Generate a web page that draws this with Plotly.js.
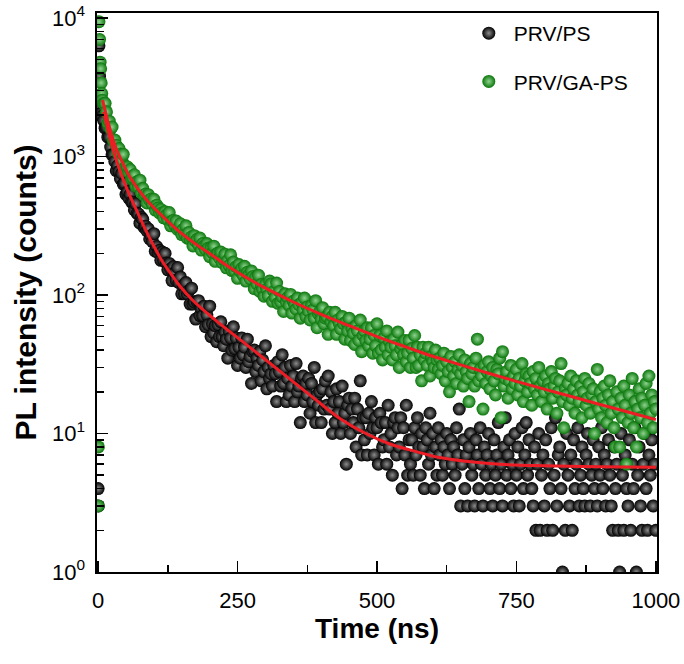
<!DOCTYPE html>
<html>
<head>
<meta charset="utf-8">
<script src="https://cdn.plot.ly/plotly-3.0.1.min.js"></script>
<style>
html,body{margin:0;padding:0;background:#fff;}
#chart{width:684px;height:664px;}
</style>
</head>
<body>
<div id="chart"></div>
<script>
// ---------- data ----------
const seriesNames = ['PRV/PS', 'PRV/GA-PS'];

// regular TCSPC time grid after the rise (ns)
const gridStart = 10;
const gridStep = 2.5;

// PRV/PS : points around the excitation pulse
const blackRiseTime = [0, 0.5, 1.5, 2.5, 3.5, 4.5, 5.5, 7];
const blackRiseCounts = [4, 3, 6300, 3800, 2700, 2300, 2050, 1950];
// PRV/PS : decay counts from t = 10 ns, every 2.5 ns
const blackCounts = [
1820,1600,1620,1378,1383,1170,1030,1032,921,789,
861,780,692,754,632,640,533,556,501,534,
469,466,411,456,389,384,330,363,352,308,
314,291,300,254,268,243,277,207,224,203,
210,178,204,178,200,170,152,169,154,127,
160,145,128,158,123,135,102,117,102,123,
102,107,86,112,86,89,67,90,91,71,
80,71,83,59,72,61,83,50,62,53,
60,46,61,50,64,50,43,54,48,35,
55,49,40,59,41,49,31,42,35,49,
37,42,30,48,33,36,23,39,40,28,
35,31,39,24,34,28,43,21,30,25,
27,22,31,27,17,33,28,22,37,23,
30,17,25,19,31,22,26,17,32,20,
22,12,25,26,17,23,19,25,14,23,
17,30,12,19,16,20,12,21,15,24,
16,26,15,20,10,17,12,21,14,17,
10,22,12,14,6,16,18,10,15,12,
18,8,15,11,24,7,13,9,13,7,
14,10,17,11,7,13,11,6,14,12,
8,9,12,6,16,8,10,5,12,13,
7,11,8,13,4,11,7,16,5,9,
6,9,5,11,7,13,8,5,10,8,
4,11,9,6,14,7,10,4,8,5,
11,
7,9,5,8,6,10,7,4,9,6,
8,5,11,7,15,3,6,9,4,7,
3,8,10,5,6,3,9,7,4,11,
6,3,8,5,7,10,4,6,3,9,
5,7,12,4,6,3,8,13,5,7,
9,4,6,3,10,5,8,3,6,11,
4,7,12,5,9,6,4,3,8,2,
6,10,2,5,7,3,9,2,6,4,
11,2,5,13,3,7,8,4,1,6,
2,10,5,3,7,2,9,4,6,11,
3,5,8,4,3,7,10,6,3,5,
9,4,6,3,8,5,11,4,7,3,
6,9,5,3,2,8,4,6,2,1,
10,5,2,7,4,3,9,2,6,4,
11,1,5,8,3,2,6,10,4,2,
7,5,9,3,6,2
];

// PRV/GA-PS : points around the excitation pulse
const greenRiseTime = [0, 0.5, 1.5, 2.5, 3.5, 4.5, 5.5, 6.5, 7.5];
const greenRiseCounts = [3, 8, 9400, 7000, 4800, 4300, 3400, 2850, 2550];
// PRV/GA-PS : decay counts from t = 10 ns, every 2.5 ns
const greenCounts = [
2415,2421,2101,1734,1799,1584,1633,1306,1314,1205,
1070,1141,1042,940,1036,807,850,841,766,804,
691,703,738,612,658,603,674,545,589,523,
536,462,530,483,494,452,491,410,445,424,
392,415,393,361,399,377,349,394,316,341,
345,319,342,297,306,327,273,298,277,316,
257,283,253,263,226,268,244,253,231,258,
211,235,225,214,235,218,189,219,202,225,
175,197,201,185,204,171,180,197,157,178,
163,195,150,173,149,160,132,166,148,156,
139,161,126,146,139,131,149,136,111,134,
120,139,106,119,110,98,119,110,99,126,
120,90,106,96,122,87,106,89,97,76,
102,89,96,84,101,74,90,85,79,95,
85,68,88,78,95,70,82,76,66,84,
78,68,91,58,73,76,67,81,62,68,
70,52,75,64,70,60,75,52,66,62,
57,70,62,48,64,55,68,47,57,53,
44,60,55,47,66,39,51,55,47,58,
43,48,58,38,51,43,62,38,51,40,
34,49,42,55,37,46,42,34,48,43,
37,54,30,41,44,37,47,33,38,47,
30,41,35,51,30,42,31,37,24,42,
34,38,31,42,26,36,33,30,40,34,
29,35,27,31,38,24,33,28,20,36,
30,26,33,23,29,37,27,31,22,34,
28,25,17,32,27,30,22,35,48,24,
29,26,15,31,23,28,33,21,26,30,
24,19,29,27,35,13,39,22,25,28,
18,24,31,21,26,23,29,19,25,22,
32,17,24,27,20,26,23,16,28,21,
25,19,30,22,17,24,20,26,15,23,
21,28,18,22,25,14,20,24,32,17,
11,21,19,23,16,26,18,21,14,24,
19,17,22,13,20,25,16,18,23,14,
19,21,10,17,29,15,20,13,18,22,
16,12,19,24,14,17,11,8,20,15,
8,18,13,22,16,6,12,19,14,25,
11,17,8,15,21,13,18,10,16,23,
12,26,14,19,11,17,15
];

// fitted decay curves (red)
const blackFitTime = [10,20,32,44,56,70,86,100,115,130,145,169,208,267,327,386,434,480,523,570,612,660,720,800,900,1000];
const blackFitCounts = [2100,1420,960,700,530,400,290,225,175,143,118,92,67,43.5,28,18.1,12.8,10.0,8.4,7.4,6.7,6.3,6.0,5.85,5.75,5.7];
const greenFitTime = [8,20,32,44,56,86,115,145,175,205,234,264,300,350,400,450,500,550,600,650,700,750,800,850,900,950,1000];
const greenFitCounts = [2550,1645,1150,898,721,490,372,288,233,193,160,135,112,89,72.4,60,50.1,42.4,36.1,31.3,27.2,23.8,20.9,18.4,16.2,14.3,12.6];

// axis ticks
const xTickVals = [0, 250, 500, 750, 1000];
const xMinorVals = [125, 375, 625, 875];
const yTickVals = [1, 10, 100, 1000, 10000];
const yTickText = ['10<sup>0</sup>', '10<sup>1</sup>', '10<sup>2</sup>', '10<sup>3</sup>', '10<sup>4</sup>'];

// ---------- build ----------
function gridTimes(n) {
  const out = [];
  for (let i = 0; i < n; i++) out.push(gridStart + i * gridStep);
  return out;
}
const yMinorVals = [];
for (let d = 0; d < 4; d++) {
  for (let k = 2; k <= 9; k++) yMinorVals.push(k * Math.pow(10, d));
}

const blackX = blackRiseTime.concat(gridTimes(blackCounts.length));
const blackY = blackRiseCounts.concat(blackCounts);
const greenX = greenRiseTime.concat(gridTimes(greenCounts.length));
const greenY = greenRiseCounts.concat(greenCounts);

const traces = [
  {
    type: 'scatter', mode: 'markers', name: seriesNames[0],
    x: blackX, y: blackY, legendgroup: 'a',
    marker: {size: 13, color: '#000000', line: {width: 0},
             gradient: {type: 'radial', color: '#8c8c8c'}},
    cliponaxis: true
  },
  {
    type: 'scatter', mode: 'markers', name: seriesNames[1],
    x: greenX, y: greenY, legendgroup: 'b',
    marker: {size: 13, color: '#097609', line: {width: 0},
             gradient: {type: 'radial', color: '#8ed38e'}},
    cliponaxis: true
  },
  {
    type: 'scatter', mode: 'lines', showlegend: false,
    x: blackFitTime, y: blackFitCounts,
    line: {color: '#ee1c24', width: 3, shape: 'spline', smoothing: 1}
  },
  {
    type: 'scatter', mode: 'lines', showlegend: false,
    x: greenFitTime, y: greenFitCounts,
    line: {color: '#ee1c24', width: 3, shape: 'spline', smoothing: 1}
  }
];

const axisCommon = {
  showline: true, linewidth: 1.6, linecolor: '#000', mirror: true,
  ticks: 'inside', ticklen: 11, tickwidth: 1.5, tickcolor: '#000',
  showgrid: false, zeroline: false,
  tickfont: {family: 'Liberation Sans, Arial, sans-serif', size: 22, color: '#000'}
};

const layout = {
  width: 684, height: 664,
  margin: {l: 97, r: 27, t: 13, b: 92},
  paper_bgcolor: '#fff', plot_bgcolor: '#fff',
  font: {family: 'Liberation Sans, Arial, sans-serif', color: '#000'},
  showlegend: true,
  legend: {
    x: 0.655, y: 1.0, xanchor: 'left', yanchor: 'top',
    bgcolor: 'rgba(0,0,0,0)', borderwidth: 0,
    font: {size: 21, color: '#000'},
    traceorder: 'grouped', tracegroupgap: 18, itemwidth: 40
  },
  xaxis: Object.assign({}, axisCommon, {
    range: [-2, 1002],
    tickmode: 'array', tickvals: xTickVals,
    ticklabelstandoff: 8,
    minor: {tickmode: 'array', tickvals: xMinorVals, ticks: 'inside', ticklen: 7, tickwidth: 1.5, tickcolor: '#000', showgrid: false},
    title: {text: '<b>Time (ns)</b>', font: {size: 28, color: '#000'}, standoff: 4}
  }),
  yaxis: Object.assign({}, axisCommon, {
    type: 'log', range: [0, 4.036],
    tickmode: 'array', tickvals: yTickVals, ticktext: yTickText,
    ticklabelstandoff: 6,
    minor: {tickmode: 'array', tickvals: yMinorVals, ticks: 'inside', ticklen: 7, tickwidth: 1.5, tickcolor: '#000', showgrid: false},
    title: {text: '<b>PL intensity (counts)</b>', font: {size: 30, color: '#000'}, standoff: 6}
  })
};

Plotly.newPlot('chart', traces, layout, {displayModeBar: false, staticPlot: true});
</script>
</body>
</html>
